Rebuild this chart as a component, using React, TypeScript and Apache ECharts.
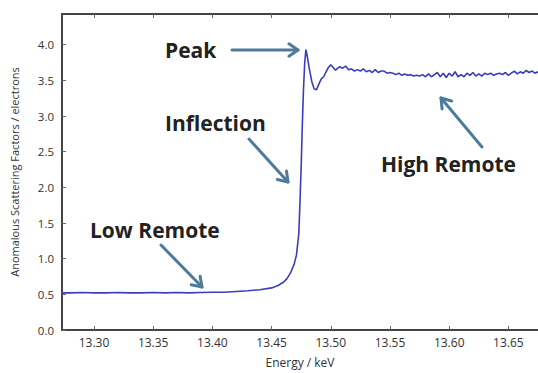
import React, { useEffect, useRef } from "react";
import * as echarts from "echarts";

const energy: number[] = [
  13.272, 13.28, 13.29, 13.3, 13.31, 13.32, 13.33, 13.34, 13.35, 13.36, 13.37, 13.38, 13.39, 13.4,
  13.41, 13.42, 13.43, 13.44, 13.45, 13.455, 13.46, 13.463, 13.466, 13.469, 13.471, 13.473, 13.474,
  13.475, 13.476, 13.477, 13.478, 13.479, 13.48, 13.482, 13.484, 13.486, 13.488, 13.49, 13.492,
  13.494, 13.496, 13.498, 13.5, 13.502, 13.504,
  13.505, 13.5075, 13.51, 13.5125, 13.515, 13.5175, 13.52, 13.5225, 13.525, 13.5275, 13.53, 13.5325,
  13.535, 13.5375, 13.54, 13.5425, 13.545, 13.5475, 13.55, 13.5525, 13.555, 13.5575, 13.56, 13.5625,
  13.565, 13.5675, 13.57, 13.5725, 13.575, 13.5775, 13.58, 13.5825, 13.585, 13.5875, 13.59, 13.5925,
  13.595, 13.5975, 13.6, 13.6025, 13.605, 13.6075, 13.61, 13.6125, 13.615, 13.6175, 13.62, 13.6225,
  13.625, 13.6275, 13.63, 13.6325, 13.635, 13.6375, 13.64, 13.6425, 13.645, 13.6475, 13.65, 13.6525,
  13.655, 13.6575, 13.66, 13.6625, 13.665, 13.6675, 13.67, 13.6725, 13.675,
];

const scattering: number[] = [
  0.52, 0.52, 0.525, 0.52, 0.52, 0.525, 0.52, 0.52, 0.525, 0.52, 0.525, 0.52, 0.525, 0.53,
  0.53, 0.54, 0.55, 0.565, 0.59, 0.62, 0.67, 0.72, 0.8, 0.92, 1.05, 1.35, 1.8,
  2.3, 2.9, 3.4, 3.75, 3.93, 3.85, 3.65, 3.48, 3.38, 3.37, 3.45, 3.52,
  3.55, 3.62, 3.68, 3.72, 3.68, 3.64,
  3.66, 3.69, 3.67, 3.7, 3.65, 3.66, 3.63, 3.65, 3.63, 3.66, 3.62, 3.64,
  3.61, 3.65, 3.61, 3.63, 3.63, 3.6, 3.61, 3.6, 3.58, 3.6, 3.57, 3.59,
  3.57, 3.58, 3.56, 3.57, 3.56, 3.58, 3.55, 3.59, 3.55, 3.58, 3.61, 3.55,
  3.6, 3.54, 3.6, 3.56, 3.62, 3.55, 3.58, 3.55, 3.6, 3.57, 3.61, 3.56,
  3.59, 3.56, 3.6, 3.58, 3.6, 3.57, 3.59, 3.6, 3.58, 3.61, 3.57, 3.6,
  3.63, 3.59, 3.62, 3.6, 3.64, 3.61, 3.63, 3.6, 3.62,
];

const xTicks: number[] = [13.3, 13.35, 13.4, 13.45, 13.5, 13.55, 13.6, 13.65];
const yTicks: number[] = [0, 0.5, 1, 1.5, 2, 2.5, 3, 3.5, 4];

const annotations: string[] = ["Peak", "Inflection", "High Remote", "Low Remote"];

const ARROW = "#4f7b9b";
const AXIS = "#444";
const FONT = "'Open Sans', 'Liberation Sans', sans-serif";

function arrow(x1: number, y1: number, x2: number, y2: number) {
  const ang = Math.atan2(y2 - y1, x2 - x1);
  const L = 11;
  const W = 0.6;
  const a1 = ang + Math.PI - W;
  const a2 = ang + Math.PI + W;
  return [
    {
      type: "line",
      shape: { x1, y1, x2, y2 },
      style: { stroke: ARROW, lineWidth: 3, lineCap: "round" },
      silent: true,
    },
    {
      type: "polyline",
      shape: {
        points: [
          [x2 + L * Math.cos(a1), y2 + L * Math.sin(a1)],
          [x2, y2],
          [x2 + L * Math.cos(a2), y2 + L * Math.sin(a2)],
        ],
      },
      style: { stroke: ARROW, lineWidth: 3, fill: "none", lineJoin: "round", lineCap: "round" },
      silent: true,
    },
  ];
}

function label(text: string, x: number, y: number) {
  return {
    type: "text",
    x,
    y,
    style: {
      text,
      font: `bold 21px ${FONT}`,
      fill: "#222",
      textVerticalAlign: "middle",
    },
    silent: true,
  };
}

export default function App() {
  const ref = useRef<HTMLDivElement>(null);
  useEffect(() => {
    document.body.style.margin = "0";
    if (!ref.current) return;
    const chart = echarts.init(ref.current, undefined, { renderer: "svg" });
    const data = energy.map((e, i) => [e, scattering[i]]);
    const xMin = 13.273;
    const xMax = 13.675;
    chart.setOption({
      animation: false,
      backgroundColor: "#fff",
      grid: { left: 62, top: 14, right: -3, bottom: 38, containLabel: false },
      xAxis: [
        {
          type: "value",
          min: xMin,
          max: xMax,
          name: "Energy / keV",
          nameLocation: "middle",
          nameGap: 26,
          nameTextStyle: { fontFamily: FONT, fontSize: 12, color: "#333" },
          axisLine: { lineStyle: { color: AXIS, width: 2 } },
          axisTick: { show: true, inside: true, length: 4, lineStyle: { color: "#666", width: 1 }, customValues: xTicks },
          axisLabel: {
            customValues: xTicks,
            formatter: (v: number) => v.toFixed(2),
            fontFamily: FONT,
            fontSize: 12,
            color: "#333",
            margin: 6,
          },
          splitLine: { show: false },
        },
        {
          type: "value",
          position: "top",
          min: xMin,
          max: xMax,
          axisLine: { lineStyle: { color: AXIS, width: 2 } },
          axisTick: { show: true, inside: true, length: 4, lineStyle: { color: "#666", width: 1 }, customValues: xTicks },
          axisLabel: { show: false },
          splitLine: { show: false },
        },
      ],
      yAxis: {
        type: "value",
        min: 0,
        max: 4.43,
        name: "Anomalous Scattering Factors / electrons",
        nameLocation: "middle",
        nameGap: 42,
        nameTextStyle: { fontFamily: FONT, fontSize: 11, color: "#333" },
        axisLine: { show: true, lineStyle: { color: AXIS, width: 2 } },
        axisTick: { show: true, inside: true, length: 4, lineStyle: { color: "#666", width: 1 }, customValues: yTicks },
        axisLabel: {
          customValues: yTicks,
          formatter: (v: number) => v.toFixed(1),
          fontFamily: FONT,
          fontSize: 11.5,
          color: "#333",
          margin: 8,
        },
        splitLine: { show: false },
      },
      series: [
        {
          type: "line",
          data,
          showSymbol: false,
          symbol: "none",
          lineStyle: { color: "#3c3cbc", width: 1.6 },
          xAxisIndex: 0,
        },
      ],
      graphic: [
        label(annotations[0], 165, 50),
        ...arrow(232, 50, 298, 50),
        label(annotations[1], 165, 123),
        ...arrow(249, 139, 288, 182),
        label(annotations[2], 381, 164),
        ...arrow(482, 147, 441, 98),
        label(annotations[3], 90, 230),
        ...arrow(161, 245, 202, 287),
      ],
    });
    return () => chart.dispose();
  }, []);
  return <div ref={ref} style={{ width: 538, height: 373 }} />;
}
